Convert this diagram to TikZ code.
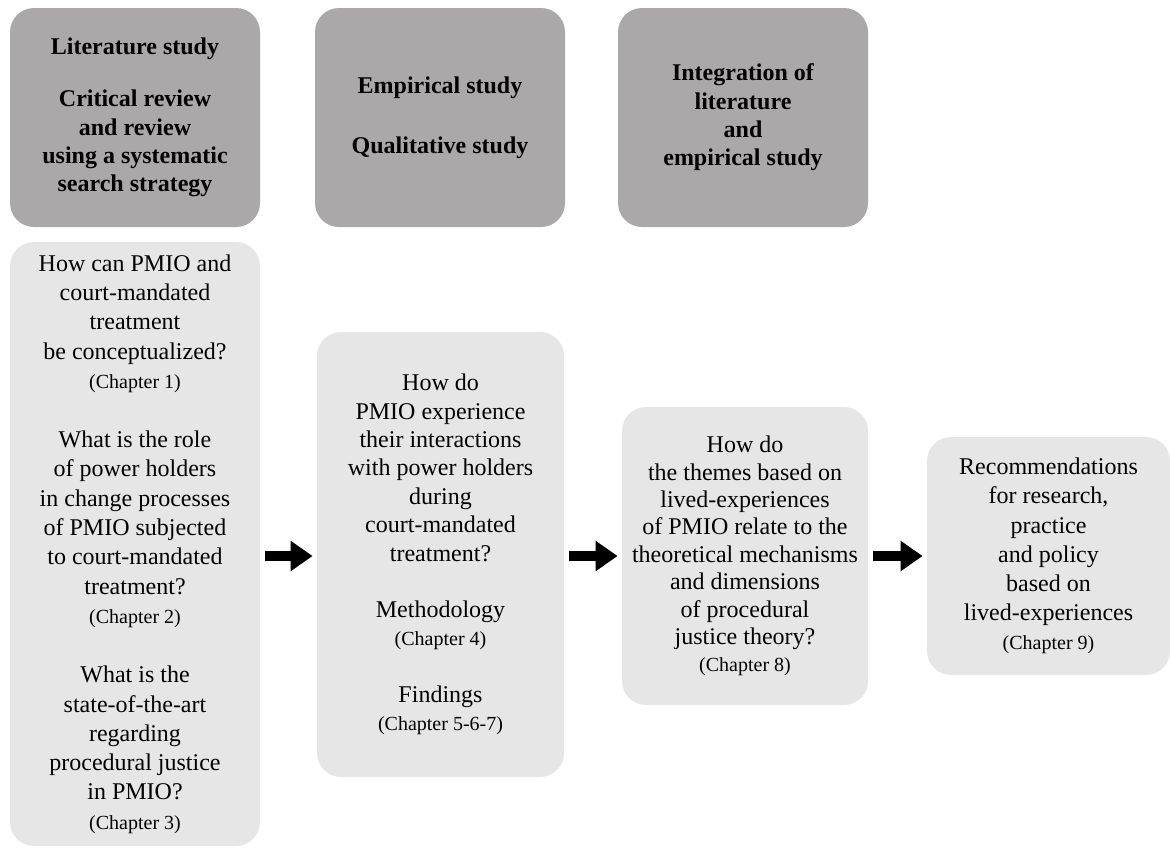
\documentclass[tikz,border=0pt]{standalone}
\usepackage{fontspec}
\setmainfont{Liberation Serif}
\usetikzlibrary{arrows.meta}
\definecolor{headgray}{HTML}{AAA8A8}
\definecolor{boxgray}{HTML}{E7E6E6}
\newcommand{\chap}[1]{{\fontsize{10}{12}\selectfont (Chapter #1)}}
\begin{document}
\begin{tikzpicture}[x=0.5pt,y=-0.5pt,
  head/.style={fill=headgray,rounded corners=12pt,minimum width=125pt,
    minimum height=109.5pt,align=center,inner sep=0pt,
    font=\fontsize{12}{14.2}\selectfont\bfseries},
  ques/.style={fill=boxgray,rounded corners=12pt,align=center,inner sep=0pt,
    font=\fontsize{12}{14.2}\selectfont},
  bigarrow/.style={line width=5pt,-{Triangle[length=11pt,width=14.5pt]},
    shorten <=2.5pt,shorten >=2pt}]
\useasboundingbox (0,0) rectangle (1170,848);
% top row
\node[head] (h1) at (135,117.5) {Literature study\\[12pt]
  Critical review\\ and review\\ using a systematic\\ search strategy};
\node[head] (h2) at (440,117.5) {Empirical study\\[16pt] Qualitative study};
\node[head] (h3) at (743,117.5) {Integration of\\ literature\\ and\\ empirical study};
% questions
\node[ques,minimum width=125pt,minimum height=302pt,
  font=\fontsize{12}{14.65}\selectfont] (b1) at (135,544)
  {How can PMIO and\\ court-mandated\\ treatment\\ be conceptualized?\\ \chap{1}\\[15pt]
   What is the role\\ of power holders\\ in change processes\\ of PMIO subjected\\
   to court-mandated\\ treatment?\\ \chap{2}\\[15pt]
   What is the\\ state-of-the-art\\ regarding\\ procedural justice\\ in PMIO?\\ \chap{3}};
\node[ques,minimum width=123.5pt,minimum height=222.5pt] (b2) at (440.5,554.5)
  {How do\\ PMIO experience\\ their interactions\\ with power holders\\ during\\
   court-mandated\\ treatment?\\[14pt]
   Methodology\\ \chap{4}\\[14pt]
   Findings\\ \chap{5-6-7}};
\node[ques,minimum width=123pt,minimum height=149pt,
  font=\fontsize{12}{13.7}\selectfont] (b3) at (745,556)
  {How do\\ the themes based on\\ lived-experiences\\ of PMIO relate to the\\
   theoretical mechanisms\\ and dimensions\\ of procedural\\ justice theory?\\ \chap{8}};
\node[ques,minimum width=121.5pt,minimum height=119pt,
  font=\fontsize{12}{14.6}\selectfont] (b4) at (1048.5,556)
  {Recommendations\\ for research,\\ practice\\ and policy\\ based on\\
   lived-experiences\\ \chap{9}};
% arrows
\coordinate (mid) at (0,556);
\draw[bigarrow] (b1.east |- mid) -- (b2.west |- mid);
\draw[bigarrow] (b2.east |- mid) -- (b3.west |- mid);
\draw[bigarrow] (b3.east |- mid) -- (b4.west |- mid);
\end{tikzpicture}
\end{document}
